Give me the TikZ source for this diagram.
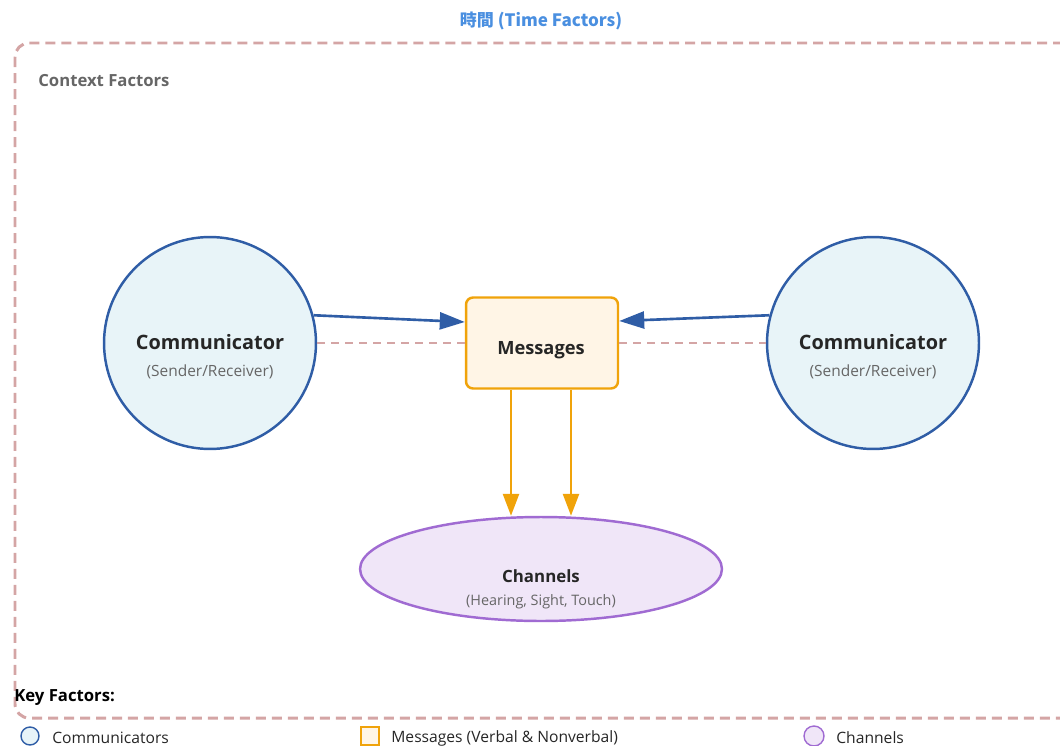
\documentclass[tikz,border=0pt]{standalone}
\usepackage{fontspec}
\setmainfont{Open Sans}
\newfontfamily\cjkfont{Noto Sans CJK TC}
\usetikzlibrary{arrows.meta,shapes.geometric,calc}

\definecolor{commblue}{HTML}{2F5DA6}
\definecolor{commfill}{HTML}{E8F4F8}
\definecolor{msgorange}{HTML}{F0A30A}
\definecolor{msgfill}{HTML}{FFF5E6}
\definecolor{chanpurple}{HTML}{A06BD2}
\definecolor{chanfill}{HTML}{F0E6F8}
\definecolor{ctxpink}{HTML}{D4A5A5}
\definecolor{timeblue}{HTML}{4A8FE0}

\begin{document}
\begin{tikzpicture}[x=0.02cm,y=-0.02cm,
    comm/.style={circle,draw=commblue,fill=commfill,line width=1.4pt,minimum size=4.24cm,inner sep=0pt},
    msgbox/.style={rectangle,rounded corners=4pt,draw=msgorange,fill=msgfill,line width=1.4pt,minimum width=3.04cm,minimum height=1.82cm,inner sep=0pt},
    chan/.style={ellipse,draw=chanpurple,fill=chanfill,line width=1.4pt,minimum width=7.24cm,minimum height=2.08cm,inner sep=0pt},
    bigtxt/.style={font=\fontsize{11.3}{13}\selectfont\bfseries,text=black!85},
    subtxt/.style={font=\fontsize{8.8}{10}\selectfont,text=black!60},
    legtxt/.style={font=\fontsize{8.9}{10}\selectfont,text=black!85,anchor=west,inner sep=0pt},
    link/.style={dashed,dash pattern=on 0.16cm off 0.12cm,draw=ctxpink,line width=1.1pt}]
  \useasboundingbox (0,0) rectangle (1060,746);

  % time frame and context
  \draw [ctxpink,line width=1.7pt,dash pattern=on 0.2cm off 0.12cm,rounded corners=8pt] (15,43) rectangle (1080,718);
  \node (time) at (541,21) {\cjkfont\bfseries\fontsize{9.7}{11}\selectfont\color{timeblue}時間 (Time Factors)};
  \node (ctx) [anchor=west,inner sep=0pt,font=\fontsize{9.5}{11}\selectfont\bfseries,text=black!60] at (38,81) {Context Factors};

  % the three parts
  \node (comL) [comm] at (210,343) {};
  \node (comR) [comm] at (873,343) {};
  \node (msg) [msgbox] at (542,343) {};
  \node (chan) [chan] at (541,569) {};

  \node (comLt) [bigtxt] at (210,342) {Communicator};
  \node (comLs) [subtxt] at (210,372) {(Sender/Receiver)};
  \node (comRt) [bigtxt] at (873,342) {Communicator};
  \node (comRs) [subtxt] at (873,372) {(Sender/Receiver)};
  \node (msgt) [bigtxt,font=\fontsize{10.4}{12}\selectfont\bfseries] at (541,350) {Messages};
  \node (chant) [bigtxt,font=\fontsize{9.6}{11}\selectfont\bfseries] at (541,576) {Channels};
  \node (chans) [subtxt,font=\fontsize{8.2}{10}\selectfont] at (541,602) {(Hearing, Sight, Touch)};

  % connectors
  \draw [link] (comL.east) -- (msg.west);
  \draw [link] (msg.east) -- (comR.west);
  \draw [commblue,line width=1.5pt,-{Triangle[length=0.5cm,width=0.34cm]}] (comL.15) -- ($(msg.west)+(0,-21)$);
  \draw [commblue,line width=1.5pt,-{Triangle[length=0.5cm,width=0.34cm]}] (comR.165) -- ($(msg.east)+(0,-22)$);
  \draw [msgorange,line width=1.5pt,-{Triangle[length=0.44cm,width=0.32cm]}] ($(msg.south)+(-31,0)$) -- ($(chan.north)+(-30,0)$);
  \draw [msgorange,line width=1.5pt,-{Triangle[length=0.44cm,width=0.32cm]}] ($(msg.south)+(29,0)$) -- ($(chan.north)+(30,0)$);

  % legend
  \node (key) [anchor=west,inner sep=0pt,font=\fontsize{9.5}{11}\selectfont\bfseries] at (14,698) {Key Factors:};
  \node (legA) [circle,draw=commblue,fill=commfill,line width=0.8pt,minimum size=0.36cm,inner sep=0pt] at (30,736) {};
  \node (legAt) [legtxt] at (52,738) {Communicators};
  \node (legB) [rectangle,draw=msgorange,fill=msgfill,line width=0.8pt,minimum size=0.36cm,inner sep=0pt] at (370,736) {};
  \node (legBt) [legtxt] at (391,738) {Messages (Verbal \& Nonverbal)};
  \node (legC) [circle,draw=chanpurple,fill=chanfill,line width=0.8pt,minimum size=0.4cm,inner sep=0pt] at (814,736) {};
  \node (legCt) [legtxt] at (836,738) {Channels};
\end{tikzpicture}
\end{document}
